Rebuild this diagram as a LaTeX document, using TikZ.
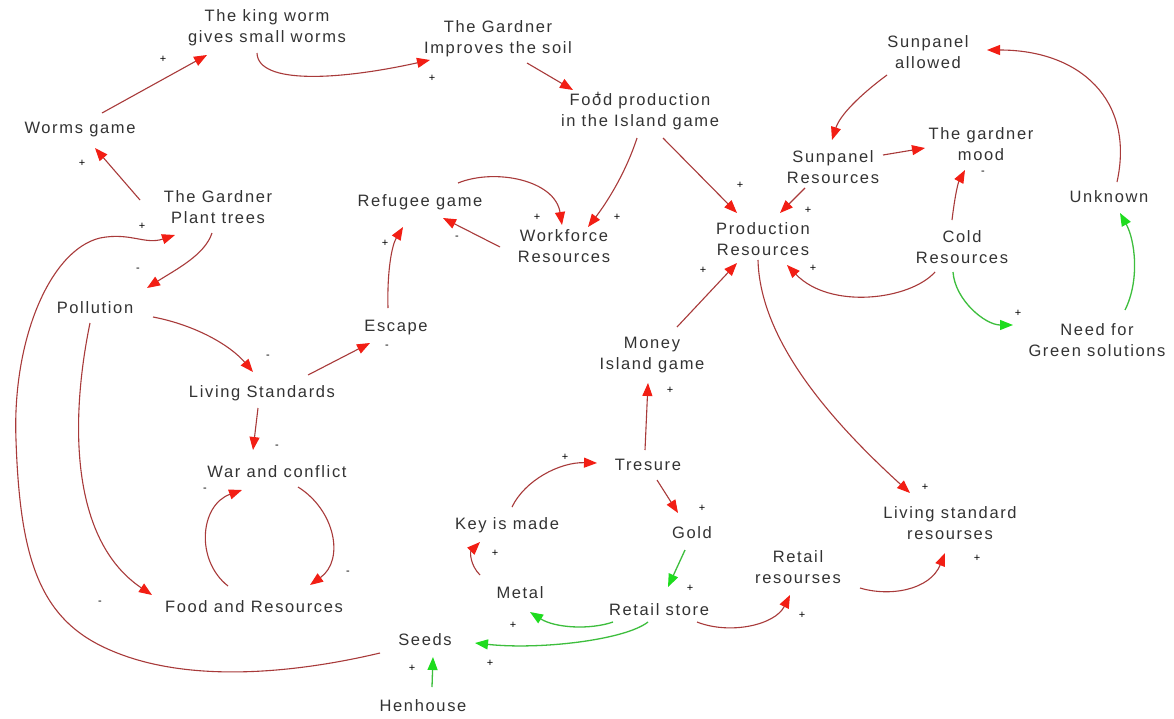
\documentclass[tikz,border=0pt]{standalone}
\usepackage{fontspec}
\usetikzlibrary{arrows.meta}
\newfontfamily\lblfont[LetterSpace=10]{Liberation Sans}
\newfontfamily\sgnfont{Liberation Sans}
\definecolor{txtgray}{HTML}{333333}
\definecolor{rline}{HTML}{A83A3A}
\definecolor{rhead}{HTML}{F21E14}
\definecolor{gline}{HTML}{3DBE3D}
\definecolor{ghead}{HTML}{1EDC1E}
\begin{document}
\begin{tikzpicture}[x=1pt,y=-1pt,
  var/.style={align=center,text=txtgray,font=\lblfont\fontsize{16.5}{21}\selectfont,inner sep=0pt},
  sgn/.style={text=black,font=\sgnfont\fontsize{11}{11}\selectfont,inner sep=0pt},
  rarr/.style={draw=rline,line width=1.1pt,-{Triangle[length=13pt,width=10pt,color=rhead]}},
  garr/.style={draw=gline,line width=1.3pt,-{Triangle[length=13pt,width=10pt,color=ghead]}},
]
\fill[white] (0,0) rectangle (1174,718);
\useasboundingbox (0,0) rectangle (1174,718);

% variables
\node[var] (king) at (267,28) {The king worm\\gives small worms};
\node[var] (soil) at (498,39) {The Gardner\\Improves the soil};
\node[var] (food) at (640,112) {Food production\\in the Island game};
\node[var] (worms) at (80,130) {Worms game};
\node[var] (plant) at (218,207) {The Gardner\\Plant trees};
\node[var] (refugee) at (420,202) {Refugee game};
\node[var] (work) at (564,246) {Workforce\\Resources};
\node[var] (sunok) at (928,52) {Sunpanel\\allowed};
\node[var] (sunres) at (833,167) {Sunpanel\\Resources};
\node[var] (mood) at (981,144) {The gardner\\mood};
\node[var] (unknown) at (1109,197) {Unknown};
\node[var] (prod) at (763,239) {Production\\Resources};
\node[var] (cold) at (962,247) {Cold\\Resources};
\node[var] (need) at (1097,340) {Need for\\Green solutions};
\node[var] (pollution) at (95,308) {Pollution};
\node[var] (escape) at (396,328) {Escape};
\node[var] (living) at (262,393) {Living Standards};
\node[var] (money) at (652,355) {Money\\Island game};
\node[var] (war) at (277,472) {War and conflict};
\node[var] (tresure) at (648,465) {Tresure};
\node[var] (livres) at (950,523) {Living standard\\resourses};
\node[var] (key) at (507,525) {Key is made};
\node[var] (gold) at (692,533) {Gold};
\node[var] (retres) at (798,567) {Retail\\resourses};
\node[var] (metal) at (520,593) {Metal};
\node[var] (foodres) at (254,607) {Food and Resources};
\node[var] (store) at (659,610) {Retail store};
\node[var] (seeds) at (425,640) {Seeds};
\node[var] (hen) at (423,706) {Henhouse};

% red links
\draw[rarr] ([shift={(22,-17)}]worms.center) -- ([shift={(-60,27)}]king.center);
\draw[rarr] ([shift={(-10,25)}]king.center) .. controls (258,85) and (340,80) .. ([shift={(-68,21)}]soil.center);
\draw[rarr] ([shift={(29,24)}]soil.center) -- ([shift={(-67,-22)}]food.center);
\draw[rarr] ([shift={(-3,26)}]food.center) .. controls (625,175) and (605,205) .. ([shift={(24,-19)}]work.center);
\draw[rarr] ([shift={(23,26)}]food.center) -- ([shift={(-26,-26)}]prod.center);
\draw[rarr] ([shift={(38,-19)}]refugee.center) .. controls (495,168) and (555,180) .. ([shift={(-2,-21)}]work.center);
\draw[rarr] ([shift={(-64,1)}]work.center) -- ([shift={(23,16)}]refugee.center);
\draw[rarr] ([shift={(-8,-20)}]escape.center) .. controls (387,270) and (392,245) .. ([shift={(-17,25)}]refugee.center);
\draw[rarr] ([shift={(46,-18)}]living.center) -- ([shift={(-26,15)}]escape.center);
\draw[rarr] ([shift={(58,9)}]pollution.center) .. controls (195,325) and (230,345) .. ([shift={(-9,-21)}]living.center);
\draw[rarr] ([shift={(-6,26)}]plant.center) .. controls (205,255) and (175,270) .. ([shift={(52,-20)}]pollution.center);
\draw[rarr] ([shift={(-78,-7)}]plant.center) -- ([shift={(15,18)}]worms.center);
\draw[rarr] ([shift={(-4,15)}]living.center) -- ([shift={(-24,-22)}]war.center);
\draw[rarr] ([shift={(-5,15)}]pollution.center) .. controls (70,420) and (70,540) .. ([shift={(-102,-12)}]foodres.center);
\draw[rarr] ([shift={(-26,-21)}]foodres.center) .. controls (195,560) and (200,505) .. ([shift={(-35,18)}]war.center);
\draw[rarr] ([shift={(21,15)}]war.center) .. controls (335,510) and (345,560) .. ([shift={(56,-22)}]foodres.center);
\draw[rarr] ([shift={(-45,13)}]seeds.center) .. controls (300,672) and (190,685) .. (110,650)
  .. controls (40,620) and (20,560) .. (16,440)
  .. controls (12,340) and (50,250) .. (100,238)
  .. controls (130,232) and (145,245) .. ([shift={(-43,28)}]plant.center);
\draw[rarr] ([shift={(-28,21)}]sunres.center) -- ([shift={(17,-26)}]prod.center);
\draw[rarr] ([shift={(-41,23)}]sunok.center) .. controls (860,95) and (840,115) .. ([shift={(-1,-27)}]sunres.center);
\draw[rarr] ([shift={(50,-12)}]sunres.center) -- ([shift={(-56,4)}]mood.center);
\draw[rarr] ([shift={(-10,-27)}]cold.center) .. controls (955,195) and (958,183) .. ([shift={(-16,26)}]mood.center);
\draw[rarr] ([shift={(8,-15)}]unknown.center) .. controls (1135,100) and (1080,50) .. ([shift={(59,-2)}]sunok.center);
\draw[rarr] ([shift={(-27,25)}]cold.center) .. controls (910,300) and (830,310) .. ([shift={(24,26)}]prod.center);
\draw[rarr] ([shift={(25,-28)}]money.center) -- ([shift={(-26,24)}]prod.center);
\draw[rarr] ([shift={(-5,21)}]prod.center) .. controls (760,340) and (830,420) .. ([shift={(-40,-30)}]livres.center);
\draw[rarr] ([shift={(-3,-15)}]tresure.center) -- ([shift={(-4,28)}]money.center);
\draw[rarr] ([shift={(9,15)}]tresure.center) -- ([shift={(-14,-20)}]gold.center);
\draw[rarr] ([shift={(5,-18)}]key.center) .. controls (525,480) and (560,462) .. ([shift={(-51,-2)}]tresure.center);
\draw[rarr] ([shift={(-40,-18)}]metal.center) .. controls (470,565) and (470,552) .. ([shift={(-27,17)}]key.center);
\draw[rarr] ([shift={(38,12)}]store.center) .. controls (730,635) and (775,625) .. ([shift={(-8,28)}]retres.center);
\draw[rarr] ([shift={(62,21)}]retres.center) .. controls (890,597) and (930,590) .. ([shift={(-5,30)}]livres.center);

% green links
\draw[garr] ([shift={(-9,25)}]cold.center) .. controls (955,300) and (985,325) .. ([shift={(-84,-15)}]need.center);
\draw[garr] ([shift={(28,-30)}]need.center) .. controls (1140,280) and (1135,240) .. ([shift={(11,16)}]unknown.center);
\draw[garr] ([shift={(-7,17)}]gold.center) -- ([shift={(9,-23)}]store.center);
\draw[garr] ([shift={(-46,12)}]store.center) .. controls (590,630) and (555,628) .. ([shift={(10,19)}]metal.center);
\draw[garr] ([shift={(-11,12)}]store.center) .. controls (625,640) and (540,650) .. ([shift={(50,3)}]seeds.center);
\draw[garr] ([shift={(9,-19)}]hen.center) -- ([shift={(8,17)}]seeds.center);

% polarity signs
\foreach \n/\p in {p1/{(163,59)}, p2/{(82,163)}, p3/{(432,78)}, p4/{(598,95)}, p5/{(740,185)},
  p6/{(537,217)}, p7/{(617,217)}, p8/{(385,243)}, p9/{(142,226)}, p10/{(808,210)},
  p11/{(703,270)}, p12/{(813,268)}, p13/{(925,487)}, p14/{(977,558)}, p15/{(802,615)},
  p16/{(702,508)}, p17/{(690,588)}, p18/{(513,625)}, p19/{(490,663)}, p20/{(412,668)},
  p21/{(495,553)}, p22/{(565,457)}, p23/{(670,390)}, p24/{(1018,313)}}
  \node[sgn] (\n) at \p {+};
\foreach \n/\p in {m1/{(138,270)}, m2/{(268,357)}, m3/{(387,347)}, m4/{(277,447)},
  m5/{(205,490)}, m6/{(348,573)}, m7/{(100,603)}, m8/{(983,173)}, m9/{(457,238)}}
  \node[sgn] (\n) at \p {-};
\end{tikzpicture}
\end{document}
